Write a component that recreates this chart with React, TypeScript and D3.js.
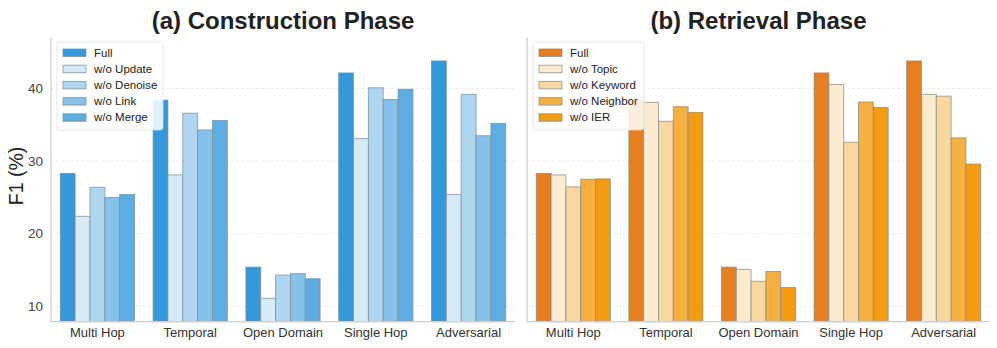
import React from "react";
import * as d3 from "d3";

const categories = ["Multi Hop", "Temporal", "Open Domain", "Single Hop", "Adversarial"];
const yTicks = [10, 20, 30, 40];

// (a) construction phase
const constructionSeries = ["Full", "w/o Update", "w/o Denoise", "w/o Link", "w/o Merge"];
const constructionFull = [28.3, 38.4, 15.4, 42.15, 43.8];
const constructionUpdate = [22.4, 28.1, 11.1, 33.1, 25.4];
const constructionDenoise = [26.4, 36.6, 14.3, 40.1, 39.2];
const constructionLink = [25.0, 34.3, 14.5, 38.5, 33.5];
const constructionMerge = [25.4, 35.6, 13.8, 39.9, 35.2];
const constructionColors = ["#3498db", "#d6eaf8", "#aed6f1", "#85c1e9", "#5dade2"];

// (b) retrieval phase
const retrievalSeries = ["Full", "w/o Topic", "w/o Keyword", "w/o Neighbor", "w/o IER"];
const retrievalFull = [28.3, 38.4, 15.4, 42.15, 43.8];
const retrievalTopic = [28.1, 38.1, 15.1, 40.55, 39.2];
const retrievalKeyword = [26.45, 35.5, 13.45, 32.6, 38.95];
const retrievalNeighbor = [27.5, 37.5, 14.8, 38.15, 33.2];
const retrievalIER = [27.55, 36.7, 12.6, 37.4, 29.6];
const retrievalColors = ["#e67e22", "#fdebd0", "#fad7a0", "#f5b041", "#f39c12"];

const W = 997;
const H = 348;
const top = 37;
const bottom = 321.7;
const font = "'Liberation Sans', Arial, Helvetica, sans-serif";

const y = d3.scaleLinear().domain([7.88, 47.1]).range([bottom, top]);

type PanelProps = {
  x0: number;
  x1: number;
  title: string;
  series: string[];
  values: number[][];
  colors: string[];
  showTickLabels: boolean;
  legendWidth: number;
};

const Panel = ({ x0, x1, title, series, values, colors, showTickLabels, legendWidth }: PanelProps) => {
  const xGroup = d3
    .scaleBand<string>()
    .domain(categories)
    .range([x0, x1])
    .paddingInner(0.2)
    .paddingOuter(0.1);
  const xSeries = d3
    .scaleBand<string>()
    .domain(series)
    .range([0, xGroup.bandwidth()]);

  const legendX = x0 + 6;
  const legendY = 42;
  const rowH = 16.2;

  return (
    <g>
      {/* grid */}
      {yTicks.map((t) => (
        <line
          key={t}
          x1={x0}
          x2={x1}
          y1={y(t)}
          y2={y(t)}
          stroke="#e6e6e6"
          strokeWidth={0.8}
          strokeDasharray="3,2"
        />
      ))}
      {showTickLabels &&
        yTicks.map((t) => (
          <text
            key={t}
            x={x0 - 8}
            y={y(t)}
            dy="0.35em"
            textAnchor="end"
            fontSize={13.5}
            fill="#444"
            fontFamily={font}
          >
            {t}
          </text>
        ))}
      {/* bars */}
      {categories.map((c, ci) =>
        series.map((s, si) => (
          <rect
            key={c + s}
            x={(xGroup(c) ?? 0) + (xSeries(s) ?? 0)}
            y={y(values[si][ci])}
            width={xSeries.bandwidth()}
            height={bottom - y(values[si][ci])}
            fill={colors[si]}
            stroke="#7f8c8d"
            strokeOpacity={0.8}
            strokeWidth={0.9}
          />
        ))
      )}
      {/* spines */}
      <line x1={x0} x2={x0} y1={top} y2={bottom} stroke="#cfcfcf" strokeWidth={1.3} />
      <line x1={x0} x2={x1} y1={bottom} y2={bottom} stroke="#cfcfcf" strokeWidth={1.3} />
      {categories.map((c) => (
        <text
          key={c}
          x={(xGroup(c) ?? 0) + xGroup.bandwidth() / 2}
          y={337}
          textAnchor="middle"
          fontSize={13}
          fill="#333"
          fontFamily={font}
        >
          {c}
        </text>
      ))}
      <text
        x={(x0 + x1) / 2}
        y={28.5}
        textAnchor="middle"
        fontSize={24}
        fontWeight="bold"
        fill="#222"
        fontFamily={font}
      >
        {title}
      </text>
      {/* legend */}
      <rect
        x={legendX}
        y={legendY}
        width={legendWidth}
        height={88}
        rx={3}
        fill="#fff"
        fillOpacity={0.85}
        stroke="#e0e0e0"
        strokeWidth={0.8}
      />
      {series.map((s, si) => (
        <g key={s} transform={`translate(${legendX + 6},${legendY + 10.5 + si * rowH})`}>
          <rect
            x={0}
            y={-3.5}
            width={23}
            height={7.5}
            fill={colors[si]}
            stroke="#7f8c8d"
            strokeOpacity={0.8}
            strokeWidth={0.9}
          />
          <text x={31} y={0} dy="0.35em" fontSize={11.5} fill="#222" fontFamily={font}>
            {s}
          </text>
        </g>
      ))}
    </g>
  );
};

export default function App() {
  return (
    <svg width={W} height={H} style={{ display: "block", position: "absolute", left: 0, top: 0 }}>
      <rect width={W} height={H} fill="#fff" />
      <text
        transform="translate(22.5,176) rotate(-90)"
        textAnchor="middle"
        fontSize={19.5}
        fill="#222"
        fontFamily={font}
      >
        F1 (%)
      </text>
      <Panel
        x0={51}
        x1={515}
        title="(a) Construction Phase"
        series={constructionSeries}
        values={[constructionFull, constructionUpdate, constructionDenoise, constructionLink, constructionMerge]}
        colors={constructionColors}
        showTickLabels={true}
        legendWidth={106}
      />
      <Panel
        x0={527}
        x1={990}
        title="(b) Retrieval Phase"
        series={retrievalSeries}
        values={[retrievalFull, retrievalTopic, retrievalKeyword, retrievalNeighbor, retrievalIER]}
        colors={retrievalColors}
        showTickLabels={false}
        legendWidth={111}
      />
    </svg>
  );
}
